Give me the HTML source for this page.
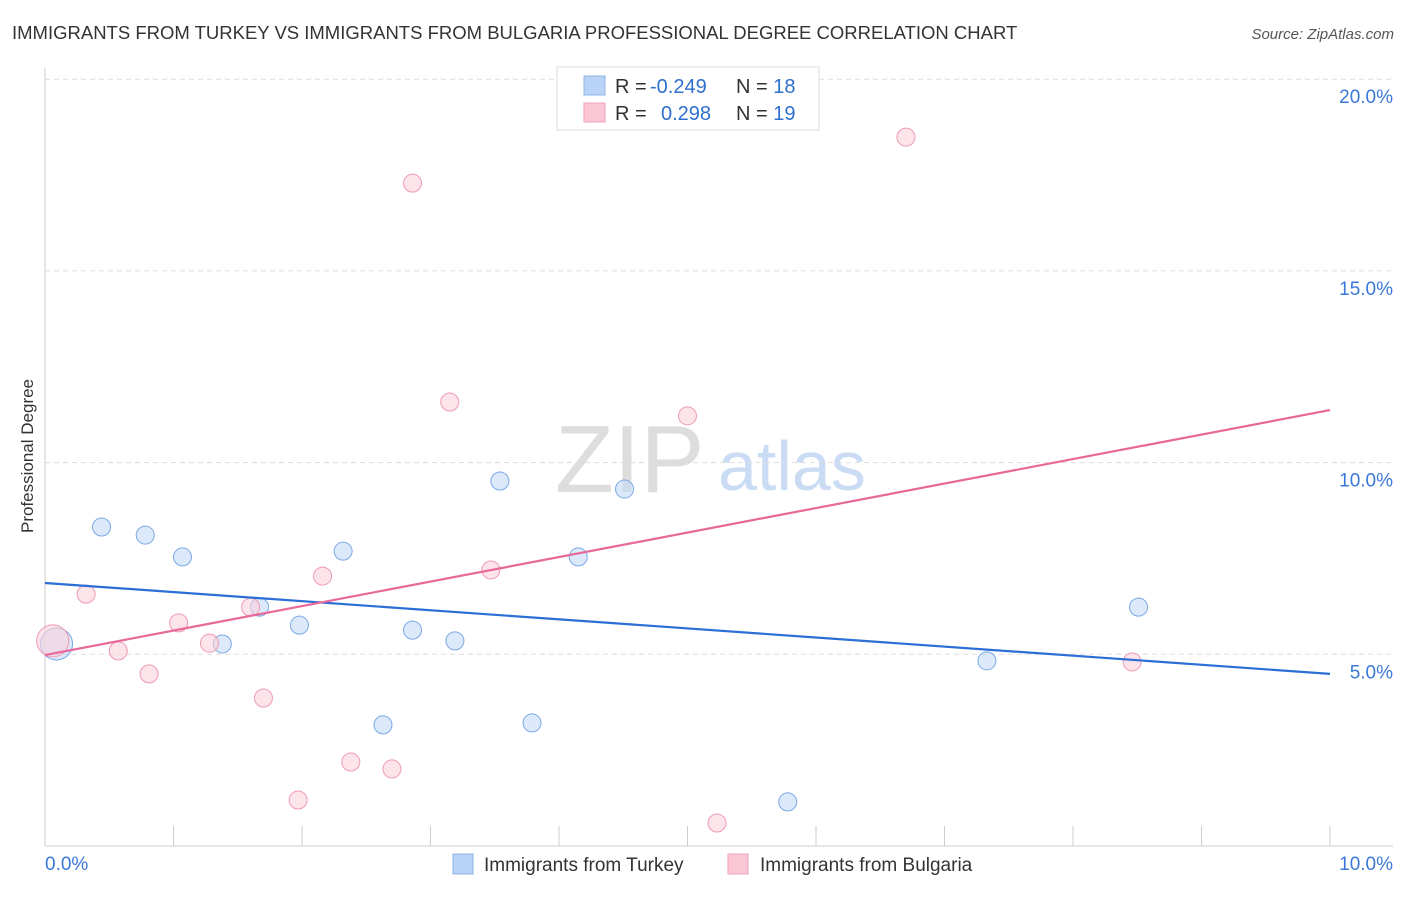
<!DOCTYPE html>
<html><head><meta charset="utf-8"><style>
body{margin:0;background:#fff;font-family:"Liberation Sans",sans-serif;}
svg text{font-family:"Liberation Sans",sans-serif;}
</style></head><body>
<svg id="c" width="1406" height="892" xmlns="http://www.w3.org/2000/svg">
<text x="12" y="39" font-size="18.5" fill="#333">IMMIGRANTS FROM TURKEY VS IMMIGRANTS FROM BULGARIA PROFESSIONAL DEGREE CORRELATION CHART</text>
<text x="1394" y="39" font-size="15" fill="#555" font-style="italic" text-anchor="end">Source: ZipAtlas.com</text>
<text transform="translate(33,456) rotate(-90)" font-size="17" fill="#333" text-anchor="middle">Professional Degree</text>
<text x="555" y="492" font-size="96" fill="#ddd" font-family="Liberation Serif">ZIP</text>
<text x="718" y="490" font-size="70" fill="#c9dcf3">atlas</text>
<g id="grid"></g><g id="axes"></g><g id="pts"></g><g id="lines"></g>
<g>
<rect x="557" y="67" width="262" height="63" fill="#fff" stroke="#ddd"/>
<rect x="584" y="76" width="21" height="19" fill="#b8d3f5" stroke="#8fb5e8"/>
<rect x="584" y="103" width="21" height="19" fill="#fac6d5" stroke="#f0a3ba"/>
<text x="615" y="93" font-size="20" fill="#333">R = <tspan fill="#2f6fce" x="650">-0.249</tspan><tspan x="736">N = </tspan><tspan fill="#2f6fce">18</tspan></text>
<text x="615" y="120" font-size="20" fill="#333">R = <tspan fill="#2f6fce" x="661">0.298</tspan><tspan x="736">N = </tspan><tspan fill="#2f6fce">19</tspan></text>
</g>
<g>
<rect x="453" y="854" width="20" height="20" fill="#b8d3f5" stroke="#8fb5e8"/>
<text x="484" y="871" font-size="19" fill="#333">Immigrants from Turkey</text>
<rect x="728" y="854" width="20" height="20" fill="#fac6d5" stroke="#f0a3ba"/>
<text x="760" y="871" font-size="19" fill="#333">Immigrants from Bulgaria</text>
</g>
</svg>
<script>
const yTicks=[5,10,15,20];
const yTickLabels=["5.0%","10.0%","15.0%","20.0%"];
const xTickLabels=["0.0%","10.0%"];
const turkeyX=[0.09,0.44,0.78,1.07,1.38,1.67,1.98,2.32,2.63,2.86,3.19,3.54,3.79,4.15,4.51,5.78,7.33,8.51];
const turkeyY=[5.27,8.32,8.11,7.54,5.27,6.23,5.76,7.69,3.16,5.63,5.35,9.52,3.21,7.54,9.31,1.15,4.83,6.23];
const bulgariaX=[0.06,0.32,0.57,0.81,1.04,1.28,1.60,1.70,1.97,2.16,2.38,2.70,2.86,3.15,3.47,5.00,5.23,6.70,8.46];
const bulgariaY=[5.35,6.57,5.09,4.49,5.82,5.29,6.23,3.86,1.20,7.04,2.19,2.01,17.29,11.58,7.20,11.22,0.60,18.49,4.80];
const turkeyTrend=[6.86,4.49];
const bulgariaTrend=[4.98,11.37];
const NS="http://www.w3.org/2000/svg";
const X=v=>45+v*128.5, Y=v=>846-v*38.34;
function mk(t,a,p){const e=document.createElementNS(NS,t);for(const k in a)e.setAttribute(k,a[k]);document.getElementById(p).appendChild(e);return e;}
yTicks.forEach((t,i)=>{
 const g=mk('line',{x1:45,x2:1393,y1:Y(t),y2:Y(t),stroke:'#ddd','stroke-dasharray':'5,4'},'grid');
 
 
 const l=mk('text',{x:1393,y:Y(t)+24,'font-size':19,fill:'#3b78d8','text-anchor':'end'},'axes');l.textContent=yTickLabels[i];
 
 
});
mk('line',{x1:45,x2:1393,y1:846,y2:846,stroke:'#ccc'},'axes');
mk('line',{x1:45,x2:45,y1:68,y2:846,stroke:'#ccc'},'axes');
for(let i=1;i<=10;i++){const tk=mk('line',{x1:X(i),x2:X(i),y1:826,y2:846,stroke:'#ccc'},'axes');
 
 }
const xl0=mk('text',{x:45,y:870,'font-size':19,fill:'#3b78d8'},'axes');xl0.textContent=xTickLabels[0];


const xl1=mk('text',{x:1393,y:870,'font-size':19,fill:'#3b78d8','text-anchor':'end'},'axes');xl1.textContent=xTickLabels[1];


function pts(xs,ys,f,s,name){xs.forEach((x,i)=>{const c=mk('circle',{cx:X(x),cy:Y(ys[i]),r:i==0?16:9,fill:f,'fill-opacity':0.6,stroke:s},'pts');
 
 });}
pts(turkeyX,turkeyY,'#c5dbf7','#7aa8e6','turkey-point');
pts(bulgariaX,bulgariaY,'#fbd0dc','#ee9ab3','bulgaria-point');
const l1=mk('line',{x1:X(0),x2:X(10),y1:Y(turkeyTrend[0]),y2:Y(turkeyTrend[1]),stroke:'#2a6fd6','stroke-width':2.2},'lines');


const l2=mk('line',{x1:X(0),x2:X(10),y1:Y(bulgariaTrend[0]),y2:Y(bulgariaTrend[1]),stroke:'#e8689a','stroke-width':2.2},'lines');


</script>
</body></html>
